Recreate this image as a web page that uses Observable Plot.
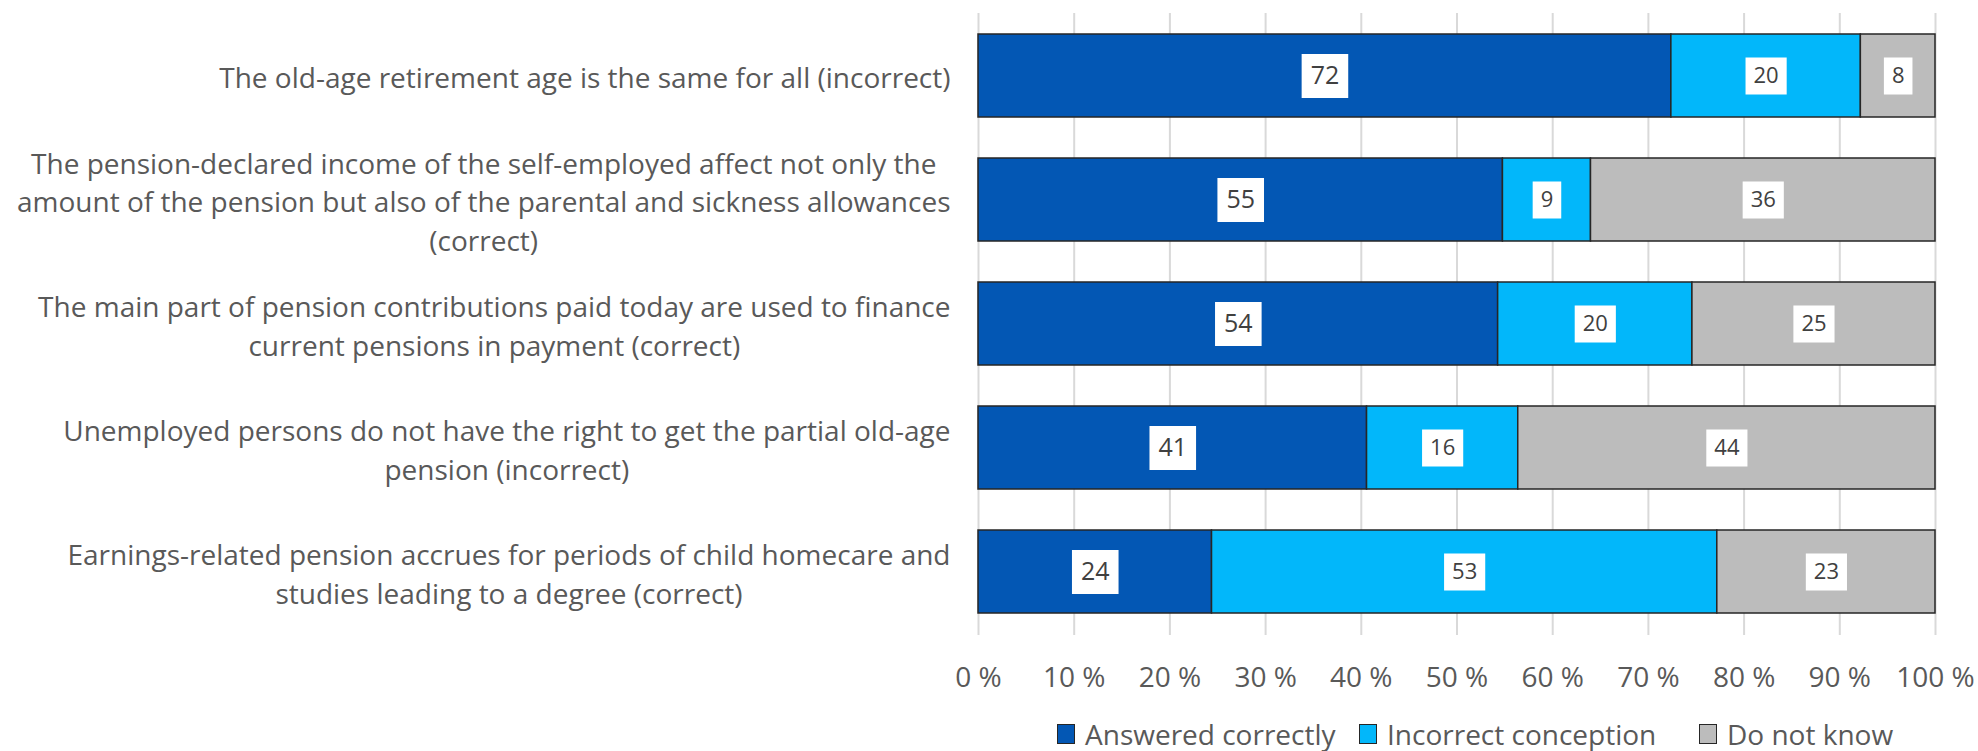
<!DOCTYPE html>
<html>
<head>
<meta charset="utf-8">
<script src="https://cdn.jsdelivr.net/npm/d3@7"></script>
<script src="https://cdn.jsdelivr.net/npm/@observablehq/plot@0.6"></script>
<style>
  html, body { margin: 0; padding: 0; background: #ffffff; }
  body { width: 1978px; height: 751px; position: relative; font-family: "Open Sans", sans-serif; }
  #chart { position: absolute; left: 0; top: 0; }
  .legend-item { position: absolute; top: 720px; height: 28px; line-height: 28px; font-size: 28px; color: #595959; white-space: nowrap; display: flex; align-items: center; }
  .legend-item .sw { width: 16px; height: 18px; border: 1px solid #262626; margin-right: 10px; }
</style>
</head>
<body>
<div id="chart"></div>
<div id="legend"></div>
<script>
// ---- data ----
const questions = [
  "The old-age retirement age is the same for all (incorrect)",
  "The pension-declared income of the self-employed affect not only the\namount of the pension but also of the parental and sickness allowances\n(correct)",
  "The main part of pension contributions paid today are used to finance\ncurrent pensions in payment (correct)",
  "Unemployed persons do not have the right to get the partial old-age\npension (incorrect)",
  "Earnings-related pension accrues for periods of child homecare and\nstudies leading to a degree (correct)"
];
const seriesNames = ["Answered correctly", "Incorrect conception", "Do not know"];
const answeredCorrectly   = [72.4, 54.8, 54.3, 40.6, 24.4];
const incorrectConception = [19.8,  9.2, 20.3, 15.8, 52.8];
const doNotKnow           = [ 7.8, 36.0, 25.4, 43.6, 22.8];
const seriesColors = ["#0357B4", "#02B7FA", "#BCBCBC"];
const xTicks = [0, 10, 20, 30, 40, 50, 60, 70, 80, 90, 100];

const seriesValues = [answeredCorrectly, incorrectConception, doNotKnow];
const table = questions.flatMap((q, i) =>
  seriesNames.map((s, j) => ({question: q, series: s, value: seriesValues[j][i], label: String(Math.round(seriesValues[j][i]))}))
);

// ---- helpers ----
const FONT = '"Open Sans"';
const cnv = document.createElement("canvas").getContext("2d");
function measure(text, size) { cnv.font = `${size}px ${FONT}`; return cnv.measureText(text).width; }
function boxSymbol(w, h) { return {draw(ctx) { ctx.rect(-w / 2, -h / 2, w, h); }}; }

const W = 1978, H = 700;
const marginLeft = 978, marginRight = 43, marginTop = 13, marginBottom = 65;
const labelGap = 28;
const stackOpts = {x: "value", y: "question", z: "series", order: null};

// stack the full table first, then keep only the wanted labels
function dataLabelMarks(test, size, padX, boxH, fill) {
  const marks = [];
  for (const nd of [1, 2, 3]) {
    if (!table.some(d => test(d) && d.label.length === nd)) continue;
    const w = measure("0".repeat(nd), size) + 2 * padX;
    marks.push(Plot.dot(table, Plot.filter(d => test(d) && d.label.length === nd,
      Plot.stackX({...stackOpts, symbol: boxSymbol(w, boxH), fill: "white", stroke: "none"}))));
  }
  marks.push(Plot.text(table, Plot.filter(test,
    Plot.stackX({...stackOpts, text: "label", fontSize: size, fill}))));
  return marks;
}

const yLabelMarks = questions.map(q => {
  const maxW = d3.max(q.split("\n"), l => measure(l, 28));
  return Plot.text([q], {y: d => d, text: d => d, frameAnchor: "left", textAnchor: "middle",
    dx: -(labelGap + maxW / 2), fontSize: 28, lineHeight: 1.39, fill: "#595959"});
});

const chart = Plot.plot({
  width: W, height: H,
  marginLeft, marginRight, marginTop, marginBottom,
  style: {fontFamily: FONT, fontSize: "28px", color: "#595959", background: "white"},
  x: {domain: [0, 100]},
  y: {domain: questions, paddingInner: 0.328, paddingOuter: 0.167, axis: null},
  color: {domain: seriesNames, range: seriesColors},
  marks: [
    Plot.ruleX(xTicks, {x: d => d, stroke: "#d9d9d9", strokeWidth: 2}),
    Plot.barX(table, Plot.stackX({...stackOpts, fill: "series", stroke: "#262626", strokeWidth: 1.5})),
    ...dataLabelMarks(d => d.series === seriesNames[0], 25, 9, 44, "#404040"),
    ...dataLabelMarks(d => d.series !== seriesNames[0], 22, 8, 37, "#404040"),
    Plot.axisX(xTicks, {tickSize: 0, tickPadding: 32, tickFormat: d => `${d} %`, fontSize: 28, fill: "#595959", label: null}),
    ...yLabelMarks
  ]
});
document.getElementById("chart").appendChild(chart);

// ---- legend ----
const legendLeft = [1057, 1359, 1699];
const legend = document.getElementById("legend");
seriesNames.forEach((s, i) => {
  const item = document.createElement("div");
  item.className = "legend-item";
  item.style.left = legendLeft[i] + "px";
  const sw = document.createElement("span");
  sw.className = "sw";
  sw.style.background = seriesColors[i];
  const tx = document.createElement("span");
  tx.textContent = s;
  item.appendChild(sw); item.appendChild(tx);
  legend.appendChild(item);
});
</script>
</body>
</html>
